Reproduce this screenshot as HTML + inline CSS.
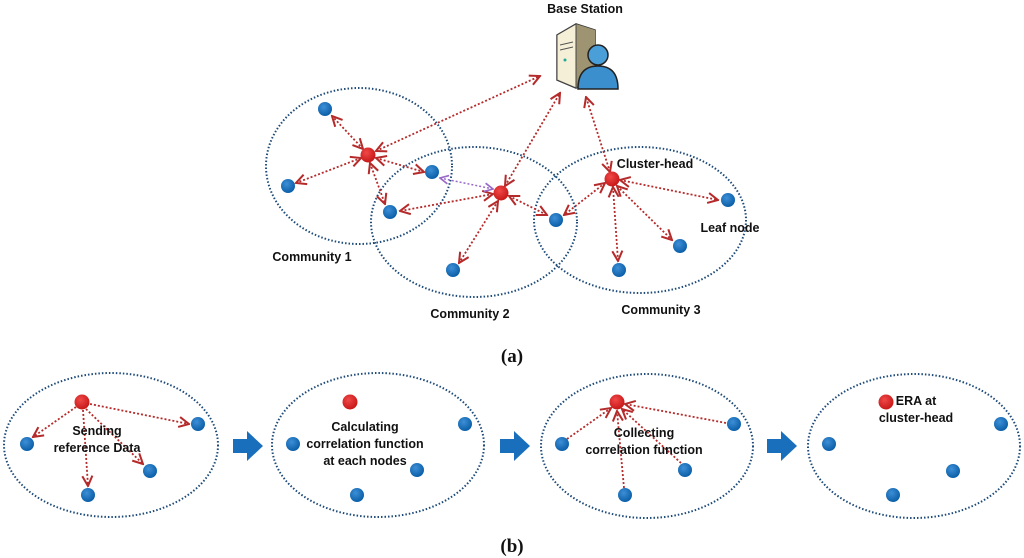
<!DOCTYPE html>
<html><head><meta charset="utf-8"><style>
html,body{margin:0;padding:0;background:#fff;width:1024px;height:558px;overflow:hidden}
text{font-family:"Liberation Sans",sans-serif;font-weight:bold;fill:#111}
</style></head><body>
<svg width="1024" height="558" viewBox="0 0 1024 558" xmlns="http://www.w3.org/2000/svg">
<defs>
<radialGradient id="gb" cx="40%" cy="35%" r="65%"><stop offset="0" stop-color="#3d8fd6"/><stop offset="1" stop-color="#0b5fa8"/></radialGradient>
<radialGradient id="gr" cx="40%" cy="35%" r="65%"><stop offset="0" stop-color="#f04848"/><stop offset="1" stop-color="#c81818"/></radialGradient>
<marker id="a" viewBox="0 0 10 10" refX="9" refY="5" markerWidth="7" markerHeight="7" orient="auto-start-reverse"><path d="M1,1 L9,5 L1,9" fill="none" stroke="#b52a2a" stroke-width="1.6"/></marker>
<marker id="p" viewBox="0 0 10 10" refX="9" refY="5" markerWidth="7" markerHeight="7" orient="auto-start-reverse"><path d="M1,1 L9,5 L1,9" fill="none" stroke="#9a6ac8" stroke-width="1.6"/></marker>
<g id="blue"><circle r="7" fill="url(#gb)"/></g>
<g id="red"><circle r="7.5" fill="url(#gr)"/></g>
<g id="arr"><path d="M0,-7 H14 V-15 L30,0 L14,15 V7 H0 Z" fill="#1a6fbd"/></g>
</defs>

<g fill="none" stroke="#1d4a78" stroke-width="2" stroke-dasharray="1.5 2">
<ellipse cx="359" cy="166" rx="93" ry="78"/>
<ellipse cx="474" cy="222" rx="103" ry="75"/>
<ellipse cx="640" cy="220" rx="106" ry="73"/>
<ellipse cx="111" cy="445" rx="107" ry="72"/>
<ellipse cx="378" cy="445" rx="106" ry="72"/>
<ellipse cx="647" cy="446" rx="106" ry="72"/>
<ellipse cx="914" cy="446" rx="106" ry="72"/>
</g>

<g stroke="#b52a2a" stroke-width="1.8" stroke-dasharray="2 2" fill="none" marker-start="url(#a)" marker-end="url(#a)">
<line x1="376" y1="151" x2="540" y2="76"/>
<line x1="505" y1="186" x2="560" y2="93"/>
<line x1="610" y1="172" x2="586" y2="97"/>
<line x1="363" y1="149" x2="332" y2="116"/>
<line x1="361" y1="158" x2="296" y2="183"/>
<line x1="376" y1="158" x2="424" y2="172"/>
<line x1="370" y1="163" x2="385" y2="204"/>
<line x1="493" y1="194" x2="400" y2="211"/>
<line x1="498" y1="201" x2="459" y2="263"/>
<line x1="509" y1="196" x2="547" y2="215"/>
<line x1="605" y1="183" x2="564" y2="215"/>
<line x1="620" y1="180" x2="718" y2="200"/>
<line x1="617" y1="186" x2="672" y2="240"/>
<line x1="613" y1="187" x2="618" y2="261"/>
</g>
<line x1="440" y1="178" x2="493" y2="189" stroke="#9a6ac8" stroke-width="1.5" stroke-dasharray="2 2" marker-start="url(#p)" marker-end="url(#p)"/>

<g stroke="#b52a2a" stroke-width="1.8" stroke-dasharray="2 2" fill="none" marker-end="url(#a)">
<line x1="76" y1="407" x2="33" y2="437"/>
<line x1="90" y1="404" x2="189" y2="424"/>
<line x1="86" y1="409" x2="143" y2="464"/>
<line x1="83" y1="410" x2="88" y2="486"/>
</g>
<g stroke="#b52a2a" stroke-width="1.8" stroke-dasharray="2 2" fill="none" marker-end="url(#a)">
<line x1="567" y1="439" x2="611" y2="408"/>
<line x1="726" y1="423" x2="625" y2="404"/>
<line x1="681" y1="463" x2="622" y2="409"/>
<line x1="624" y1="488" x2="617" y2="411"/>
</g>

<!-- base station -->
<g>
<path d="M557,35 L576,24 L595,30 L595,78 L576,88 L557,80 Z" fill="#d9cfa8" stroke="#333" stroke-width="1.5"/>
<path d="M576,24 L595,30 L595,78 L576,88 Z" fill="#9e9472"/>
<path d="M557,35 L576,24 L576,88 L557,80Z" fill="#f4efd6" stroke="#444" stroke-width="1"/>
<line x1="560" y1="45" x2="573" y2="42" stroke="#555"/><line x1="560" y1="50" x2="573" y2="47" stroke="#555"/>
<circle cx="565" cy="60" r="1.5" fill="#2a9"/>
<circle cx="598" cy="55" r="10" fill="#4a9fd8" stroke="#222" stroke-width="1.5"/>
<path d="M578,89 Q578,66 598,66 Q618,66 618,89 Z" fill="#3a8fcc" stroke="#222" stroke-width="1.5"/>
</g>

<use href="#blue" x="325" y="109"/><use href="#blue" x="288" y="186"/><use href="#blue" x="432" y="172"/>
<use href="#blue" x="390" y="212"/><use href="#blue" x="453" y="270"/><use href="#blue" x="556" y="220"/>
<use href="#blue" x="728" y="200"/><use href="#blue" x="680" y="246"/><use href="#blue" x="619" y="270"/>
<use href="#red" x="368" y="155"/><use href="#red" x="501" y="193"/><use href="#red" x="612" y="179"/>

<use href="#red" x="82" y="402"/><use href="#blue" x="27" y="444"/><use href="#blue" x="198" y="424"/><use href="#blue" x="150" y="471"/><use href="#blue" x="88" y="495"/>
<use href="#red" x="350" y="402"/><use href="#blue" x="293" y="444"/><use href="#blue" x="465" y="424"/><use href="#blue" x="417" y="470"/><use href="#blue" x="357" y="495"/>
<use href="#red" x="617" y="402"/><use href="#blue" x="562" y="444"/><use href="#blue" x="734" y="424"/><use href="#blue" x="685" y="470"/><use href="#blue" x="625" y="495"/>
<use href="#red" x="886" y="402"/><use href="#blue" x="829" y="444"/><use href="#blue" x="1001" y="424"/><use href="#blue" x="953" y="471"/><use href="#blue" x="893" y="495"/>

<use href="#arr" x="233" y="446"/><use href="#arr" x="500" y="446"/><use href="#arr" x="767" y="446"/>

<g font-size="12.5" text-anchor="middle">
<text x="585" y="13">Base Station</text>
<text x="655" y="168">Cluster-head</text>
<text x="730" y="232">Leaf node</text>
<text x="312" y="261">Community 1</text>
<text x="470" y="318">Community 2</text>
<text x="661" y="314">Community 3</text>
<text x="97" y="435">Sending</text>
<text x="97" y="452">reference Data</text>
<text x="365" y="431">Calculating</text>
<text x="365" y="448">correlation function</text>
<text x="365" y="465">at each nodes</text>
<text x="644" y="437">Collecting</text>
<text x="644" y="454">correlation function</text>
<text x="916" y="405">ERA at</text>
<text x="916" y="422">cluster-head</text>
</g>
<g font-family="Liberation Serif" font-size="19" text-anchor="middle">
<text x="512" y="362" style="font-family:'Liberation Serif',serif">(<tspan>a</tspan>)</text>
<text x="512" y="552" style="font-family:'Liberation Serif',serif">(b)</text>
</g>
</svg>
</body></html>
